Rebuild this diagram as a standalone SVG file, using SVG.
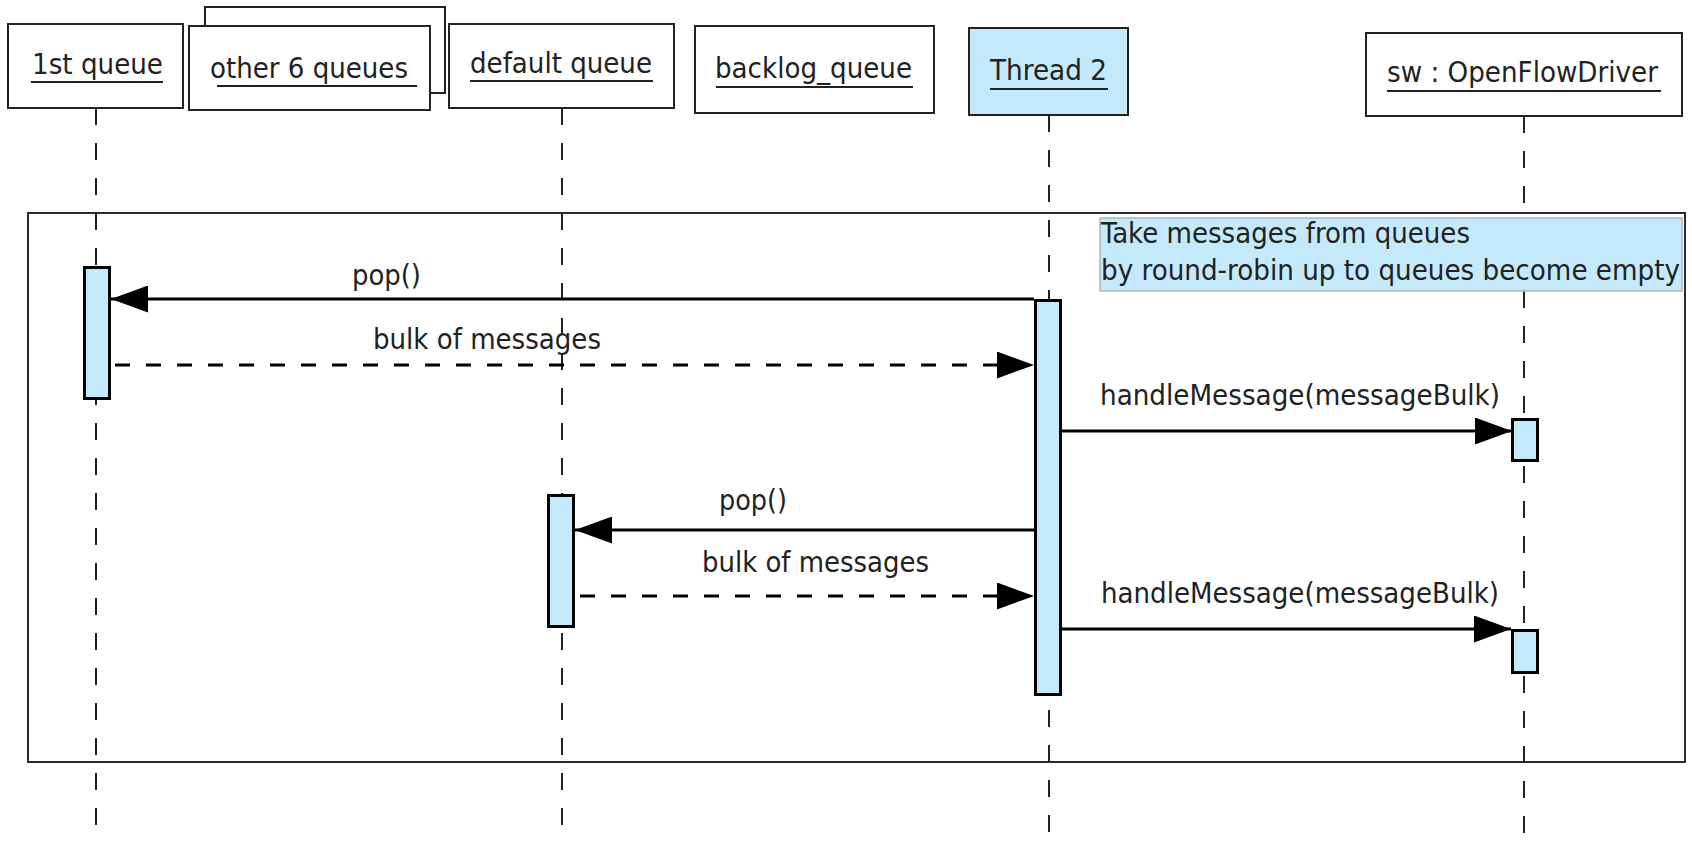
<svg xmlns="http://www.w3.org/2000/svg" width="1692" height="843" viewBox="0 0 1692 843">
<style>
  .hdr { fill: #ffffff; stroke: #222222; stroke-width: 2; }
  .hdr-act { fill: #c4e9fb; stroke: #222222; stroke-width: 2; }
  .txt { font-family: "DejaVu Sans Condensed", "DejaVu Sans", sans-serif; font-stretch: condensed; font-size: 29px; fill: #222222; }
  .ul { stroke: #222222; stroke-width: 2; }
  .life { stroke: #222222; stroke-width: 2; stroke-dasharray: 17 18; fill: none; }
  .frame { fill: none; stroke: #2a2a2a; stroke-width: 2; }
  .note { fill: #c4e9fb; stroke: #a9b4ba; stroke-width: 1.5; }
  .act { fill: #c4e9fb; stroke: #000000; stroke-width: 3; }
  .msg { stroke: #000000; stroke-width: 3; fill: none; marker-end: url(#arrow); }
  .ret { stroke: #000000; stroke-width: 3; fill: none; stroke-dasharray: 15 16; marker-end: url(#arrow); }
</style>
<defs>
  <marker id="arrow" markerUnits="userSpaceOnUse" viewBox="0 0 37 27" refX="37" refY="13.5" markerWidth="37" markerHeight="27" orient="auto">
    <path d="M0,0 L37,13.5 L0,27 Z" fill="#000000"/>
  </marker>
</defs>
<rect width="1692" height="843" fill="#ffffff"/>

<!-- combined fragment frame -->
<g id="frame">
  <rect class="frame" x="28" y="213" width="1657" height="549"/>
</g>

<!-- lifelines -->
<g id="lifelines">
  <line class="life" x1="96" y1="108" x2="96" y2="843"/>
  <line class="life" x1="562" y1="108" x2="562" y2="843"/>
  <line class="life" x1="1049" y1="115" x2="1049" y2="843"/>
  <line class="life" x1="1524" y1="116" x2="1524" y2="843"/>
</g>

<!-- note -->
<g id="note">
  <rect class="note" x="1100" y="218" width="582" height="73"/>
  <text class="txt" x="1101" y="243" textLength="369" lengthAdjust="spacingAndGlyphs">Take messages from queues</text>
  <text class="txt" x="1101" y="280" textLength="579" lengthAdjust="spacingAndGlyphs">by round-robin up to queues become empty</text>
</g>

<!-- header nodes -->
<g id="node-1st-queue">
  <rect class="hdr" x="8" y="24" width="175" height="84"/>
  <text class="txt" x="32" y="74" textLength="131" lengthAdjust="spacingAndGlyphs">1st queue</text>
  <line class="ul" x1="31" y1="82" x2="163" y2="82"/>
</g>
<g id="node-other-queues">
  <rect class="hdr" x="205" y="7" width="240" height="86"/>
  <rect class="hdr" x="189" y="26" width="241" height="84"/>
  <text class="txt" x="210" y="78" textLength="198" lengthAdjust="spacingAndGlyphs">other 6 queues</text>
  <line class="ul" x1="217" y1="86" x2="417" y2="86"/>
</g>
<g id="node-default-queue">
  <rect class="hdr" x="449" y="24" width="225" height="84"/>
  <text class="txt" x="470" y="73" textLength="182" lengthAdjust="spacingAndGlyphs">default queue</text>
  <line class="ul" x1="470" y1="81" x2="653" y2="81"/>
</g>
<g id="node-backlog-queue">
  <rect class="hdr" x="695" y="26" width="239" height="87"/>
  <text class="txt" x="715" y="78" textLength="197" lengthAdjust="spacingAndGlyphs">backlog_queue</text>
  <line class="ul" x1="716" y1="87" x2="913" y2="87"/>
</g>
<g id="node-thread2">
  <rect class="hdr-act" x="969" y="28" width="159" height="87"/>
  <text class="txt" x="990" y="80" textLength="117" lengthAdjust="spacingAndGlyphs">Thread 2</text>
  <line class="ul" x1="990" y1="89" x2="1108" y2="89"/>
</g>
<g id="node-sw">
  <rect class="hdr" x="1366" y="33" width="316" height="83"/>
  <text class="txt" x="1387" y="82" textLength="271" lengthAdjust="spacingAndGlyphs">sw : OpenFlowDriver</text>
  <line class="ul" x1="1387" y1="91" x2="1661" y2="91"/>
</g>

<!-- activations -->
<g id="activations">
  <rect class="act" x="84.5" y="267.5" width="25" height="131"/>
  <rect class="act" x="548.5" y="495.5" width="25" height="131"/>
  <rect class="act" x="1035.5" y="300.5" width="25" height="394"/>
  <rect class="act" x="1512.5" y="419.5" width="25" height="41"/>
  <rect class="act" x="1512.5" y="630.5" width="25" height="42"/>
</g>

<!-- messages -->
<g id="connectors">
  <line class="msg" x1="1034" y1="299" x2="111" y2="299"/>
  <text class="txt" x="352" y="285" textLength="69" lengthAdjust="spacingAndGlyphs">pop()</text>

  <line class="ret" x1="115" y1="365" x2="1034" y2="365"/>
  <text class="txt" x="373" y="349" textLength="228" lengthAdjust="spacingAndGlyphs">bulk of messages</text>

  <line class="msg" x1="1062" y1="431" x2="1512" y2="431"/>
  <text class="txt" x="1100" y="405" textLength="400" lengthAdjust="spacingAndGlyphs">handleMessage(messageBulk)</text>

  <line class="msg" x1="1034" y1="530" x2="575" y2="530"/>
  <text class="txt" x="719" y="510" textLength="68" lengthAdjust="spacingAndGlyphs">pop()</text>

  <line class="ret" x1="580" y1="596" x2="1034" y2="596"/>
  <text class="txt" x="702" y="572" textLength="227" lengthAdjust="spacingAndGlyphs">bulk of messages</text>

  <line class="msg" x1="1062" y1="629" x2="1511" y2="629"/>
  <text class="txt" x="1101" y="603" textLength="398" lengthAdjust="spacingAndGlyphs">handleMessage(messageBulk)</text>
</g>
</svg>
